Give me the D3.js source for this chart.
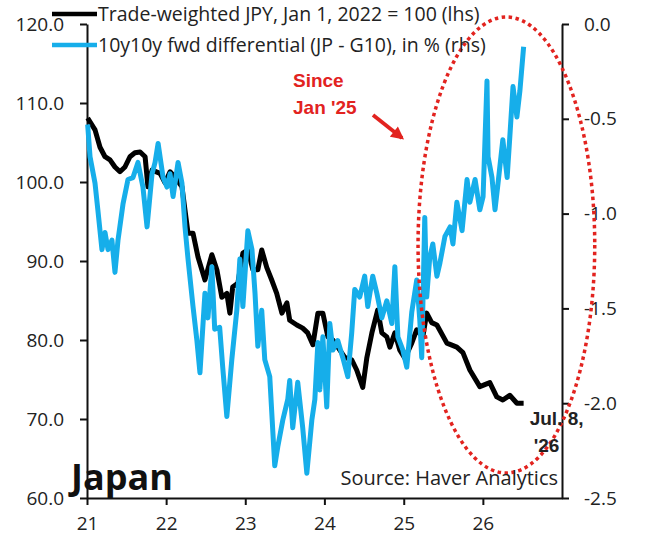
<!DOCTYPE html>
<html>
<head>
<meta charset="utf-8">
<script src="https://cdn.jsdelivr.net/npm/d3@7"></script>
<style>
  body { margin: 0; background: #fff; }
  svg text { font-family: "Open Sans", sans-serif; }
</style>
</head>
<body>
<svg id="chart" width="660" height="548"></svg>
<script>
// trade-weighted JPY (lhs)
const jpyDates = ['2021-01-04','2021-02-07','2021-03-02','2021-03-25','2021-04-17','2021-05-10','2021-06-02','2021-06-25','2021-07-18','2021-08-10','2021-09-03','2021-09-26','2021-10-09','2021-10-28','2021-12-04','2021-12-27',
  '2022-01-19','2022-02-11','2022-03-15','2022-04-12','2022-05-05','2022-05-28','2022-06-29','2022-07-31','2022-08-23','2022-09-15','2022-10-08','2022-10-22','2022-11-04','2022-11-28','2022-12-21',
  '2023-01-13','2023-02-05','2023-02-28','2023-03-18','2023-04-10','2023-05-03','2023-05-26','2023-06-19','2023-07-12','2023-07-25','2023-08-27','2023-09-23','2023-10-16','2023-11-09','2023-12-02','2023-12-25',
  '2024-01-17','2024-02-09','2024-03-03','2024-04-04','2024-05-06','2024-05-29','2024-06-26','2024-07-15','2024-08-07','2024-09-03','2024-09-22','2024-10-15','2024-10-29','2024-11-21','2024-12-14',
  '2025-01-06','2025-02-07','2025-03-02','2025-03-30','2025-04-17','2025-05-10','2025-06-03','2025-07-19','2025-09-03','2025-10-01','2025-11-02','2025-12-18',
  '2026-02-02','2026-03-06','2026-04-03','2026-05-05','2026-06-07','2026-07-08']
const jpyValues = [108.1,106.6,104.4,103.2,102.8,101.9,101.3,101.9,103.2,103.7,103.8,103.2,99.4,101.5,101.1,99.9,
  101.3,100.6,99.4,93.5,93.5,90.5,87.6,90.8,88.9,85.4,85.9,83.4,86.7,87.2,91.0,
  91.4,88.9,88.9,91.4,89.2,87.6,85.9,83.4,84.7,82.5,81.9,81.5,80.9,79.4,83.4,83.4,
  80.4,80.0,79.1,77.8,77.5,76.2,74.0,77.8,80.9,83.8,80.9,80.4,79.1,80.9,78.7,
  77.7,79.6,81.3,80.4,83.4,82.2,81.9,79.6,79.1,78.4,76.2,74.1,
  74.6,72.8,72.4,73.0,72.0,72.0]

// 10y10y fwd differential JP - G10, % (rhs)
const fwdDates = ['2021-01-04','2021-01-15','2021-02-07','2021-02-20','2021-03-11','2021-03-25','2021-04-08','2021-04-26','2021-05-10','2021-05-24','2021-06-16','2021-07-09','2021-08-01','2021-08-24','2021-09-16','2021-10-05','2021-10-28','2021-11-11','2021-11-25','2021-12-18',
  '2022-01-05','2022-01-19','2022-02-02','2022-02-25','2022-03-15','2022-03-29','2022-04-12','2022-05-05','2022-05-23','2022-06-06','2022-06-29','2022-07-13','2022-07-31','2022-08-13','2022-09-05','2022-09-19','2022-10-08','2022-10-31','2022-11-23','2022-12-07','2022-12-21',
  '2023-01-13','2023-02-01','2023-02-15','2023-02-28','2023-03-18','2023-04-01','2023-04-24','2023-05-17','2023-05-31','2023-06-23','2023-07-16','2023-07-25','2023-08-08','2023-08-31','2023-09-23','2023-10-12','2023-11-04','2023-11-18','2023-12-02','2023-12-11','2023-12-25',
  '2024-01-12','2024-01-26','2024-02-09','2024-03-03','2024-03-26','2024-04-18','2024-05-06','2024-05-20','2024-06-12','2024-07-05','2024-07-19','2024-08-11','2024-08-30','2024-09-22','2024-10-15','2024-11-07','2024-11-21','2024-12-05','2024-12-28',
  '2025-01-15','2025-02-07','2025-03-02','2025-03-16','2025-03-25','2025-04-08','2025-04-17','2025-05-01','2025-05-15','2025-06-03','2025-06-17','2025-07-10','2025-08-03','2025-08-16','2025-09-03','2025-09-27','2025-10-20','2025-11-02','2025-11-26','2025-12-18',
  '2026-01-02','2026-01-20','2026-01-25','2026-02-12','2026-02-26','2026-03-12','2026-04-03','2026-04-23','2026-05-05','2026-05-20','2026-06-07','2026-06-21','2026-07-08']
const fwdValues = [-0.53,-0.70,-0.84,-0.98,-1.19,-1.10,-1.19,-1.14,-1.31,-1.14,-0.95,-0.82,-0.81,-0.73,-0.86,-1.07,-0.79,-0.73,-0.63,-0.81,
  -0.86,-0.79,-0.91,-0.73,-0.84,-1.07,-1.24,-1.49,-1.67,-1.84,-1.42,-1.55,-1.28,-1.61,-1.60,-1.81,-2.07,-1.77,-1.51,-1.24,-1.49,
  -1.09,-1.19,-1.42,-1.70,-1.51,-1.77,-1.86,-2.33,-2.23,-2.09,-1.98,-1.88,-2.13,-1.89,-2.13,-2.37,-2.09,-1.98,-1.68,-1.93,-1.65,
  -2.02,-1.58,-1.72,-1.67,-1.76,-1.86,-1.63,-1.40,-1.44,-1.33,-1.49,-1.33,-1.42,-1.55,-1.46,-1.58,-1.28,-1.65,-1.72,
  -1.81,-1.52,-1.35,-1.56,-1.76,-1.02,-1.44,-1.23,-1.16,-1.33,-1.26,-1.12,-1.07,-1.16,-0.94,-1.09,-0.82,-0.94,-0.82,-0.98,
  -0.91,-0.30,-0.70,-0.81,-0.98,-0.84,-0.61,-0.81,-0.60,-0.33,-0.49,-0.35,-0.12]

const yearTicks = ['2021','2022','2023','2024','2025','2026']
const leftTicks = [60,70,80,90,100,110,120]
const rightTicks = [-2.5,-2.0,-1.5,-1.0,-0.5,0.0]
const seriesNames = ['Trade-weighted JPY, Jan 1, 2022 = 100 (lhs)', '10y10y fwd differential (JP - G10), in % (rhs)']

const BLUE = '#16aeea'
const RED = '#e2231f'
const INK = '#222'

const parse = d3.timeParse('%Y-%m-%d')
const fmt = d3.formatLocale({decimal: '.', thousands: ',', grouping: [3], currency: ['', ''], minus: '-'}).format('.1f')

const svg = d3.select('#chart')
const margin = {top: 24, right: 98, bottom: 50, left: 87}
const width = +svg.attr('width') - margin.left - margin.right
const height = +svg.attr('height') - margin.top - margin.bottom
const g = svg.append('g').attr('transform', 'translate(' + margin.left + ',' + margin.top + ')')

const x = d3.scaleTime()
  .domain([parse('2021-01-01'), parse('2027-01-01')])
  .range([0, width])
const yL = d3.scaleLinear().domain([60, 120]).range([height, 0])
const yR = d3.scaleLinear().domain([-2.5, 0]).range([height, 0])

const jpy = jpyDates.map((d, i) => ({date: parse(d), value: jpyValues[i]}))
const fwd = fwdDates.map((d, i) => ({date: parse(d), value: fwdValues[i]}))

// axes
const xAxis = g.append('g')
  .attr('transform', 'translate(0,' + height + ')')
  .call(d3.axisBottom(x)
    .tickValues(yearTicks.map(y => parse(y + '-01-01')))
    .tickFormat(d3.timeFormat('%y'))
    .tickSize(7).tickSizeOuter(0).tickPadding(12))
const leftAxis = g.append('g')
  .call(d3.axisLeft(yL).tickValues(leftTicks).tickFormat(fmt)
    .tickSize(7).tickSizeOuter(0).tickPadding(16))
const rightAxis = g.append('g')
  .attr('transform', 'translate(' + width + ',0)')
  .call(d3.axisRight(yR).tickValues(rightTicks).tickFormat(fmt)
    .tickSize(7).tickSizeOuter(0).tickPadding(15))

;[xAxis, leftAxis, rightAxis].forEach(a => {
  a.select('.domain').attr('stroke', '#111').attr('stroke-width', 2)
  a.selectAll('.tick line').attr('stroke', '#111').attr('stroke-width', 2)
  a.selectAll('.tick text').style('font-size', '19px').attr('fill', INK)
})

// series
const lineL = d3.line().x(d => x(d.date)).y(d => yL(d.value))
const lineR = d3.line().x(d => x(d.date)).y(d => yR(d.value))

g.append('path').datum(jpy)
  .attr('fill', 'none').attr('stroke', '#000').attr('stroke-width', 5)
  .attr('stroke-linejoin', 'round').attr('d', lineL)
g.append('path').datum(fwd)
  .attr('fill', 'none').attr('stroke', BLUE).attr('stroke-width', 5)
  .attr('stroke-linejoin', 'round').attr('d', lineR)

// dotted ellipse round the 2025-26 move
const ex0 = x(parse('2025-03-08')), ex1 = x(parse('2027-06-01'))
const ey0 = yR(0.037), ey1 = yR(-2.368)
g.append('ellipse')
  .attr('cx', (ex0 + ex1) / 2).attr('cy', (ey0 + ey1) / 2)
  .attr('rx', (ex1 - ex0) / 2).attr('ry', (ey1 - ey0) / 2)
  .attr('fill', 'none').attr('stroke', RED)
  .attr('stroke-width', 3.5).attr('stroke-dasharray', '3.5 3.5')

// arrow + note
svg.append('defs').append('marker')
  .attr('id', 'head').attr('viewBox', '0 0 10 10')
  .attr('refX', 8).attr('refY', 5)
  .attr('markerWidth', 3.6).attr('markerHeight', 3.4)
  .attr('orient', 'auto')
  .append('path').attr('d', 'M0,0L10,5L0,10z').attr('fill', RED)

svg.append('line')
  .attr('x1', 373).attr('y1', 115).attr('x2', 402).attr('y2', 138)
  .attr('stroke', RED).attr('stroke-width', 3.8)
  .attr('marker-end', 'url(#head)')

const note = svg.append('text')
  .style('font-family', '"Liberation Sans", Arial, sans-serif')
  .style('font-size', '19px').style('font-weight', 'bold').style('fill', RED)
note.append('tspan').attr('x', 293).attr('y', 87).text('Since')
note.append('tspan').attr('x', 293).attr('y', 114).text("Jan '25")

// last-date label
const last = jpy[jpy.length - 1]
const lastLbl = g.append('text')
  .style('font-family', '"Liberation Sans", Arial, sans-serif')
  .style('font-size', '19px').style('font-weight', 'bold').style('fill', INK)
lastLbl.append('tspan').attr('x', x(last.date) + 6).attr('y', yL(last.value) + 22).text('Jul. 8,')
lastLbl.append('tspan').attr('x', x(last.date) + 10).attr('y', yL(last.value) + 49).text("'26")

// legend
const legend = svg.append('g')
const legendColors = ['#000', BLUE]
seriesNames.forEach((name, i) => {
  const ly = 14 + i * 31
  legend.append('line')
    .attr('x1', 52).attr('x2', 97).attr('y1', ly).attr('y2', ly)
    .attr('stroke', legendColors[i]).attr('stroke-width', 4.5)
  legend.append('text')
    .attr('x', 98).attr('y', ly + 7)
    .style('font-size', '19.5px').style('fill', INK)
    .text(name)
})

svg.append('text')
  .attr('x', 71).attr('y', 490)
  .style('font-size', '36px').style('font-weight', 'bold').style('fill', '#111')
  .text('Japan')

svg.append('text')
  .attr('x', 558).attr('y', 485)
  .attr('text-anchor', 'end')
  .style('font-size', '20px').style('fill', INK)
  .text('Source: Haver Analytics')
</script>
</body>
</html>
